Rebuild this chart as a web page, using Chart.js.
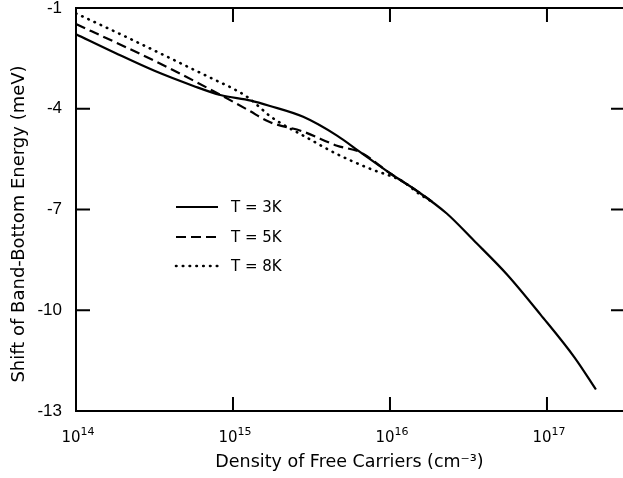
<!DOCTYPE html>
<html>
<head>
<meta charset="utf-8">
<script src="https://cdn.jsdelivr.net/npm/chart.js@4/dist/chart.umd.min.js"></script>
<style>
  html, body { margin: 0; padding: 0; background: #fff; overflow: hidden; }
  #wrap { width: 623px; height: 478px; }
</style>
</head>
<body>
<div id="wrap"><canvas id="c" width="623" height="478"></canvas></div>
<script>
// ---- data ----
const densities3K = [1.0e14, 1.78e14, 3.16e14, 5.6e14, 8.3e14, 1.3e15, 1.7e15, 2.8e15, 4.6e15, 6.5e15, 1.0e16, 1.5e16, 2.3e16, 3.4e16, 5.6e16, 9.1e16, 1.5e17, 2.05e17];
const shift3K     = [-1.78, -2.34, -2.87, -3.32, -3.59, -3.76, -3.91, -4.24, -4.80, -5.30, -5.92, -6.46, -7.12, -7.91, -8.95, -10.13, -11.41, -12.36];

const densities5K = [1.0e14, 2.0e14, 4.0e14, 7.9e14, 1.26e15, 1.7e15, 2.8e15, 4.6e15, 6.5e15, 1.0e16, 1.5e16, 1.9e16];
const shift5K     = [-1.48, -2.13, -2.81, -3.53, -4.05, -4.39, -4.68, -5.10, -5.30, -5.92, -6.46, -6.80];

const densities8K = [1.0e14, 2.0e14, 4.0e14, 7.9e14, 1.0e15, 1.26e15, 1.45e15, 1.7e15, 2.1e15, 2.8e15, 4.6e15, 7.4e15, 1.2e16, 1.55e16, 1.9e16];
const shift8K     = [-1.16, -1.82, -2.50, -3.17, -3.40, -3.68, -3.92, -4.20, -4.48, -4.80, -5.35, -5.78, -6.16, -6.55, -6.80];

const seriesLabels = ['T = 3K', 'T = 5K', 'T = 8K'];
const xTickValues = [1e14, 1e15, 1e16, 1e17];
const xTickBase = '10';
const xTickExponents = ['14', '15', '16', '17'];
const yTickValues = [-13, -10, -7, -4, -1];
const yTickLabels = ['-13', '-10', '-7', '-4', '-1'];
const xTitle = 'Density of Free Carriers (cm\u207B\u00B3)';
const yTitle = 'Shift of Band-Bottom Energy (meV)';

const FONT = '"DejaVu Sans", "Liberation Sans", sans-serif';
const NARROW = '"Liberation Sans Narrow", "Liberation Sans", sans-serif';

function pts(xs, ys) { return xs.map((x, i) => ({ x: x, y: ys[i] })); }

const dashes = [[], [10, 5], [0.5, 6.3]];

// frame with inward ticks (right edge of the frame lies outside the picture)
const framePlugin = {
  id: 'frame',
  afterDatasetsDraw(chart) {
    const ctx = chart.ctx;
    const a = chart.chartArea;
    const xs = chart.scales.x, ys = chart.scales.y;
    ctx.save();
    ctx.strokeStyle = '#000';
    ctx.lineWidth = 2;
    ctx.beginPath();
    ctx.moveTo(a.right + 2, a.top); ctx.lineTo(a.left, a.top);
    ctx.lineTo(a.left, a.bottom); ctx.lineTo(a.right + 2, a.bottom);
    ctx.stroke();
    const L = 14;
    ctx.beginPath();
    xTickValues.forEach(v => {
      const px = xs.getPixelForValue(v);
      if (px <= a.left + 2 || px >= a.right - 2) return;
      ctx.moveTo(px, a.bottom); ctx.lineTo(px, a.bottom - L);
      ctx.moveTo(px, a.top); ctx.lineTo(px, a.top + L);
    });
    yTickValues.forEach(v => {
      const py = ys.getPixelForValue(v);
      if (py <= a.top + 2 || py >= a.bottom - 2) return;
      ctx.moveTo(a.left, py); ctx.lineTo(a.left + L, py);
      ctx.moveTo(a.right, py); ctx.lineTo(a.right - L + 2, py);
    });
    ctx.stroke();

    // x tick labels: 10 with raised exponent
    ctx.fillStyle = '#000';
    ctx.textBaseline = 'alphabetic';
    ctx.textAlign = 'left';
    xTickValues.forEach((v, i) => {
      const px = xs.getPixelForValue(v);
      ctx.font = '15px ' + FONT;
      const wb = ctx.measureText(xTickBase).width;
      ctx.font = '11px ' + FONT;
      const we = ctx.measureText(xTickExponents[i]).width;
      const x0 = px + 2 - (wb + we) / 2;
      ctx.font = '15px ' + FONT;
      ctx.fillText(xTickBase, x0, 442);
      ctx.font = '11px ' + FONT;
      ctx.fillText(xTickExponents[i], x0 + wb, 435);
    });

    // y axis title
    ctx.save();
    ctx.translate(19, 224);
    ctx.rotate(-Math.PI / 2);
    ctx.textAlign = 'center';
    ctx.textBaseline = 'middle';
    ctx.font = '18px ' + FONT;
    ctx.fillText(yTitle, 0, 0);
    ctx.restore();
    ctx.restore();
  }
};

// legend inside plot
const legendPlugin = {
  id: 'innerLegend',
  afterDatasetsDraw(chart) {
    const ctx = chart.ctx;
    const rows = [207, 237, 266];
    ctx.save();
    chart.data.datasets.forEach((ds, i) => {
      const y = rows[i];
      ctx.strokeStyle = '#000';
      ctx.lineWidth = ds.borderWidth;
      ctx.setLineDash(ds.borderDash || []);
      ctx.lineCap = ds.borderCapStyle || 'butt';
      ctx.beginPath();
      ctx.moveTo(176, y); ctx.lineTo(218, y);
      ctx.stroke();
      ctx.setLineDash([]);
      ctx.fillStyle = '#000';
      ctx.font = '15px ' + FONT;
      ctx.textBaseline = 'middle';
      ctx.fillText(ds.label, 231, y + 1);
    });
    ctx.restore();
  }
};

new Chart(document.getElementById('c'), {
  type: 'line',
  data: {
    datasets: [
      { label: seriesLabels[0], data: pts(densities3K, shift3K), borderDash: dashes[0] },
      { label: seriesLabels[1], data: pts(densities5K, shift5K), borderDash: dashes[1] },
      { label: seriesLabels[2], data: pts(densities8K, shift8K), borderDash: dashes[2], borderCapStyle: 'round', borderWidth: 2.6 }
    ].map(d => Object.assign({
      borderColor: '#000', borderWidth: 2.2, pointRadius: 0, fill: false,
      cubicInterpolationMode: 'monotone'
    }, d))
  },
  options: {
    responsive: false,
    devicePixelRatio: 1,
    animation: false,
    layout: { padding: { top: 8, right: 0, left: 0, bottom: 0 } },
    plugins: { legend: { display: false }, tooltip: { enabled: false } },
    scales: {
      x: {
        type: 'logarithmic',
        min: 1e14,
        max: 3.05e17,
        grid: { display: false, drawTicks: false },
        border: { display: false },
        afterBuildTicks: s => { s.ticks = xTickValues.map(v => ({ value: v })); },
        afterFit: s => { s.height = 67; s.paddingLeft = 0; s.paddingRight = 0; },
        ticks: { display: false },
        title: { display: true, text: xTitle, color: '#000', font: { family: FONT, size: 17.5 }, padding: { top: 0, bottom: 5 } }
      },
      y: {
        type: 'linear',
        min: -13,
        max: -1,
        grid: { display: false, drawTicks: false },
        border: { display: false },
        afterBuildTicks: s => { s.ticks = yTickValues.map(v => ({ value: v })); },
        afterFit: s => { s.width = 76; s.paddingTop = 0; s.paddingBottom = 0; },
        ticks: {
          color: '#000', padding: 14,
          font: { family: NARROW, size: 17 },
          callback: v => { const i = yTickValues.indexOf(v); return i >= 0 ? yTickLabels[i] : ''; }
        },
        title: { display: false, text: yTitle }
      }
    }
  },
  plugins: [framePlugin, legendPlugin]
});
</script>
</body>
</html>
